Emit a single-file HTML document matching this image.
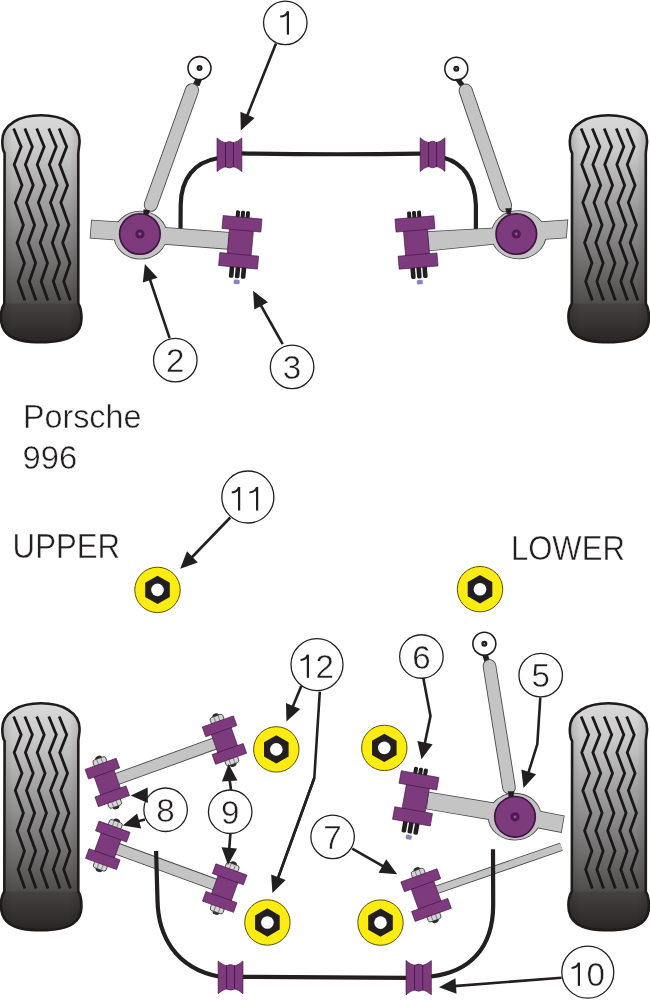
<!DOCTYPE html>
<html><head><meta charset="utf-8"><title>Porsche 996</title>
<style>html,body{margin:0;padding:0;background:#fff;}svg{display:block;}text{-webkit-font-smoothing:antialiased;}</style></head>
<body><svg width="650" height="1000" viewBox="0 0 650 1000" style="will-change:transform">
<rect width="650" height="1000" fill="#fff"/>
<defs>
<linearGradient id="tg" x1="0" y1="114" x2="0" y2="343" gradientUnits="userSpaceOnUse">
<stop offset="0" stop-color="#dadada"/>
<stop offset="0.157" stop-color="#c9c9c9"/>
<stop offset="0.5" stop-color="#8d8c8c"/>
<stop offset="0.821" stop-color="#514f4e"/>
<stop offset="0.832" stop-color="#45413f"/>
<stop offset="1" stop-color="#282423"/>
</linearGradient>
<linearGradient id="th" x1="0" y1="0" x2="82" y2="0" gradientUnits="userSpaceOnUse">
<stop offset="0" stop-color="#000" stop-opacity="0.16"/>
<stop offset="0.16" stop-color="#000" stop-opacity="0"/>
<stop offset="0.84" stop-color="#000" stop-opacity="0"/>
<stop offset="1" stop-color="#000" stop-opacity="0.16"/>
</linearGradient>
<g id="tire"><path d="M4.6,153 C2.6,150 2.3,146 2.3,141 C2.3,124 20,115.3 41,115.3 C62,115.3 79.6,124 79.6,141 C79.6,146 78.3,150 78.3,153.5 L78.3,303.5 C80.5,307 81.5,312 81.5,318 C81.5,333 72,342.3 41,342.3 C10,342.3 0.9,333 0.9,317 C0.9,312 2.2,307 4.3,303.5 Z" fill="url(#tg)"/><path d="M4.6,153 C2.6,150 2.3,146 2.3,141 C2.3,124 20,115.3 41,115.3 C62,115.3 79.6,124 79.6,141 C79.6,146 78.3,150 78.3,153.5 L78.3,303.5 C80.5,307 81.5,312 81.5,318 C81.5,333 72,342.3 41,342.3 C10,342.3 0.9,333 0.9,317 C0.9,312 2.2,307 4.3,303.5 Z" fill="url(#th)"/><path d="M4.6,153 C2.6,150 2.3,146 2.3,141 C2.3,124 20,115.3 41,115.3 C62,115.3 79.6,124 79.6,141 C79.6,146 78.3,150 78.3,153.5 L78.3,303.5 C80.5,307 81.5,312 81.5,318 C81.5,333 72,342.3 41,342.3 C10,342.3 0.9,333 0.9,317 C0.9,312 2.2,307 4.3,303.5 Z" fill="none" stroke="#1e1b1a" stroke-width="2.6"/><polyline points="13.65,128.50 21.15,146.80 14.20,164.60 22.00,185.30 15.30,202.60 23.40,225.00 17.10,242.70 24.45,263.10 18.15,281.50 24.85,300.50" fill="none" stroke="#1a1718" stroke-width="2.8" stroke-linejoin="miter"/><polyline points="24.85,128.50 32.35,146.80 25.40,164.60 33.20,185.30 26.50,202.60 34.60,225.00 28.30,242.70 35.65,263.10 29.35,281.50 36.05,300.50" fill="none" stroke="#1a1718" stroke-width="2.8" stroke-linejoin="miter"/><polyline points="36.70,128.50 44.20,146.80 37.25,164.60 45.05,185.30 38.35,202.60 46.45,225.00 40.15,242.70 47.50,263.10 41.20,281.50 47.90,300.50" fill="none" stroke="#1a1718" stroke-width="2.8" stroke-linejoin="miter"/><polyline points="48.80,128.50 56.30,146.80 49.35,164.60 57.15,185.30 50.45,202.60 58.55,225.00 52.25,242.70 59.60,263.10 53.30,281.50 60.00,300.50" fill="none" stroke="#1a1718" stroke-width="2.8" stroke-linejoin="miter"/><polyline points="59.20,128.50 66.70,146.80 59.75,164.60 67.55,185.30 60.85,202.60 68.95,225.00 62.65,242.70 70.00,263.10 63.70,281.50 70.40,300.50" fill="none" stroke="#1a1718" stroke-width="2.8" stroke-linejoin="miter"/></g>
</defs>
<use href="#tire" x="567.5" y="0"/>
<use href="#tire" x="0" y="588"/>
<use href="#tire" x="567.5" y="588"/>
<use href="#tire"/>
<path d="M217.5,158.3 C195,162 181,178 180.7,205 L180.5,230" fill="none" stroke="#231f20" stroke-width="4.2" stroke-linecap="butt"/>
<path d="M241,153.4 Q331,155 421,153.6" fill="none" stroke="#231f20" stroke-width="4.2" stroke-linecap="butt"/>
<path d="M444.5,158 C462,163 475,178 475.9,205 L475.9,230" fill="none" stroke="#231f20" stroke-width="4.2" stroke-linecap="butt"/>
<circle cx="199.5" cy="68.1" r="11.5" fill="#fff" stroke="#231f20" stroke-width="1.6"/>
<circle cx="199.5" cy="68.1" r="3" fill="#231f20"/>
<circle cx="199.5" cy="68.1" r="0.7" fill="#bbb"/>
<polygon points="195.5,78.5 202,79.5 199.5,86 192.5,85.5" fill="#231f20"/>
<line x1="192.0" y1="90.2" x2="150.8" y2="204.8" stroke="#4a4a4a" stroke-width="14.100000000000001" stroke-linecap="round"/>
<line x1="192.0" y1="90.2" x2="150.8" y2="204.8" stroke="#c4c4c4" stroke-width="12.3" stroke-linecap="round"/>
<polygon points="91.9,220.5 122,222.6 120,240 90.5,237.7" fill="#c4c4c4" stroke="#4a4a4a" stroke-width="1.6"/>
<polygon points="158,227.3 228.8,232.8 227.6,248.8 156,243.3" fill="#c4c4c4" stroke="#4a4a4a" stroke-width="1.6"/>
<ellipse cx="140.4" cy="235.1" rx="26.2" ry="23.6" fill="#c4c4c4" stroke="#4a4a4a" stroke-width="1.6"/>
<polygon points="91.9,220.5 122,222.6 120,240 90.5,237.7" fill="#c4c4c4"/>
<polygon points="158,227.3 228.8,232.8 227.6,248.8 156,243.3" fill="#c4c4c4"/>
<ellipse cx="140.4" cy="235.1" rx="26.2" ry="23.6" fill="#c4c4c4"/>
<circle cx="139.9" cy="234" r="20.3" fill="#7d3b7e" stroke="#3e1240" stroke-width="1.6"/>
<circle cx="139.9" cy="234" r="4.6" fill="#4e1a50"/>
<circle cx="139.9" cy="234" r="2.2" fill="#6a2a6c"/>
<circle cx="139.9" cy="234" r="0.8" fill="#b890b8"/>
<polygon points="143.5,209.3 150,210.3 148.3,215 143.3,214.5" fill="#231f20"/>
<g transform="translate(240.3,242.3) rotate(5.25)"><rect x="-7.00" y="-31.60" width="4" height="8" rx="1.6" fill="#231f20"/><rect x="-2.00" y="-31.60" width="4" height="8" rx="1.6" fill="#231f20"/><rect x="3.00" y="-31.60" width="4" height="8" rx="1.6" fill="#231f20"/><rect x="-8.30" y="23.10" width="4.6" height="13" rx="1.6" fill="#231f20"/><rect x="-2.30" y="23.10" width="4.6" height="13" rx="1.6" fill="#231f20"/><rect x="3.70" y="23.10" width="4.6" height="13" rx="1.6" fill="#231f20"/><rect x="-3" y="37.50" width="6" height="4.6" rx="1.5" fill="#8c84c0"/><rect x="-12.0" y="-18.6" width="24" height="37.2" fill="#7d3b7e" stroke="#3e1240" stroke-width="0.6"/><rect x="-19.5" y="-25.1" width="39" height="13" fill="#7d3b7e" stroke="#3e1240" stroke-width="0.6"/><rect x="-19.5" y="12.100000000000001" width="39" height="13" fill="#7d3b7e" stroke="#3e1240" stroke-width="0.6"/></g>
<circle cx="456.3" cy="68.7" r="11.5" fill="#fff" stroke="#231f20" stroke-width="1.6"/>
<circle cx="456.3" cy="68.7" r="3" fill="#231f20"/>
<circle cx="456.3" cy="68.7" r="0.7" fill="#bbb"/>
<polygon points="454.5,79 460.5,78.5 466,86 460,86.5" fill="#231f20"/>
<line x1="465.7" y1="90.6" x2="505.0" y2="205.3" stroke="#4a4a4a" stroke-width="14.100000000000001" stroke-linecap="round"/>
<line x1="465.7" y1="90.6" x2="505.0" y2="205.3" stroke="#c4c4c4" stroke-width="12.3" stroke-linecap="round"/>
<polygon points="567.4,220.2 536,222.4 538,239.5 566,237.6" fill="#c4c4c4" stroke="#4a4a4a" stroke-width="1.6"/>
<polygon points="500,228 427.8,231.9 429.3,250.4 502,243" fill="#c4c4c4" stroke="#4a4a4a" stroke-width="1.6"/>
<ellipse cx="518.6" cy="234.75" rx="27.1" ry="23.7" fill="#c4c4c4" stroke="#4a4a4a" stroke-width="1.6"/>
<polygon points="567.4,220.2 536,222.4 538,239.5 566,237.6" fill="#c4c4c4"/>
<polygon points="500,228 427.8,231.9 429.3,250.4 502,243" fill="#c4c4c4"/>
<ellipse cx="518.6" cy="234.75" rx="27.1" ry="23.7" fill="#c4c4c4"/>
<circle cx="516.3" cy="234" r="20.3" fill="#7d3b7e" stroke="#3e1240" stroke-width="1.6"/>
<circle cx="516.3" cy="234" r="4.6" fill="#4e1a50"/>
<circle cx="516.3" cy="234" r="2.2" fill="#6a2a6c"/>
<circle cx="516.3" cy="234" r="0.8" fill="#b890b8"/>
<polygon points="505.3,208.3 511.8,208.3 510.8,214 506.8,214.5" fill="#231f20"/>
<g transform="translate(416.5,242.5) rotate(-4.8)"><rect x="-7.00" y="-31.60" width="4" height="8" rx="1.6" fill="#231f20"/><rect x="-2.00" y="-31.60" width="4" height="8" rx="1.6" fill="#231f20"/><rect x="3.00" y="-31.60" width="4" height="8" rx="1.6" fill="#231f20"/><rect x="-8.30" y="23.10" width="4.6" height="13" rx="1.6" fill="#231f20"/><rect x="-2.30" y="23.10" width="4.6" height="13" rx="1.6" fill="#231f20"/><rect x="3.70" y="23.10" width="4.6" height="13" rx="1.6" fill="#231f20"/><rect x="-3" y="37.50" width="6" height="4.6" rx="1.5" fill="#8c84c0"/><rect x="-12.0" y="-18.6" width="24" height="37.2" fill="#7d3b7e" stroke="#3e1240" stroke-width="0.6"/><rect x="-19.5" y="-25.1" width="39" height="13" fill="#7d3b7e" stroke="#3e1240" stroke-width="0.6"/><rect x="-19.5" y="12.100000000000001" width="39" height="13" fill="#7d3b7e" stroke="#3e1240" stroke-width="0.6"/></g>
<path d="M217,137.9 Q221.98,142.22 225.466,142.70000000000002 Q229.45,140.3 233.434,142.70000000000002 Q236.92000000000002,142.22 241.9,137.9 L241.9,171.6 Q236.92000000000002,167.28 233.434,166.79999999999998 Q229.45,169.2 225.466,166.79999999999998 Q221.98,167.28 217,171.6 Z" fill="#7d3b7e" stroke="#3e1240" stroke-width="0.6"/>
<line x1="225.466" y1="142.20000000000002" x2="225.466" y2="167.29999999999998" stroke="#3e1240" stroke-width="0.8"/>
<line x1="233.434" y1="142.20000000000002" x2="233.434" y2="167.29999999999998" stroke="#3e1240" stroke-width="0.8"/>
<path d="M420.1,137.7 Q425.08000000000004,142.01999999999998 428.56600000000003,142.5 Q432.55,140.1 436.534,142.5 Q440.02,142.01999999999998 445,137.7 L445,171.4 Q440.02,167.08 436.534,166.6 Q432.55,169.0 428.56600000000003,166.6 Q425.08000000000004,167.08 420.1,171.4 Z" fill="#7d3b7e" stroke="#3e1240" stroke-width="0.6"/>
<line x1="428.56600000000003" y1="142.0" x2="428.56600000000003" y2="167.1" stroke="#3e1240" stroke-width="0.8"/>
<line x1="436.534" y1="142.0" x2="436.534" y2="167.1" stroke="#3e1240" stroke-width="0.8"/>
<line x1="107.3" y1="782.5" x2="224.45" y2="740.1" stroke="#4a4a4a" stroke-width="12.4" stroke-linecap="butt"/>
<line x1="107.3" y1="782.5" x2="224.45" y2="740.1" stroke="#c4c4c4" stroke-width="10.6" stroke-linecap="butt"/>
<line x1="107.8" y1="845.35" x2="224.7" y2="888.1" stroke="#4a4a4a" stroke-width="12.200000000000001" stroke-linecap="butt"/>
<line x1="107.8" y1="845.35" x2="224.7" y2="888.1" stroke="#c4c4c4" stroke-width="10.4" stroke-linecap="butt"/>
<g transform="translate(107.3,782.5) rotate(-19.6)"><ellipse cx="0" cy="-25.60" rx="3.5" ry="2.6" fill="#2a2a2a"/><rect x="-6.75" y="-25.60" width="13.50" height="7.00" rx="2.2" fill="#d6d6d6" stroke="#333" stroke-width="0.8"/><line x1="-2.25" y1="-25.10" x2="-2.25" y2="-19.10" stroke="#666" stroke-width="0.7"/><line x1="2.25" y1="-25.10" x2="2.25" y2="-19.10" stroke="#666" stroke-width="0.7"/><ellipse cx="0" cy="25.60" rx="3.5" ry="2.6" fill="#2a2a2a"/><rect x="-6.75" y="18.60" width="13.50" height="7.00" rx="2.2" fill="#d6d6d6" stroke="#333" stroke-width="0.8"/><line x1="-2.25" y1="19.10" x2="-2.25" y2="25.10" stroke="#666" stroke-width="0.7"/><line x1="2.25" y1="19.10" x2="2.25" y2="25.10" stroke="#666" stroke-width="0.7"/><rect x="-10.5" y="-14.65" width="21" height="29.3" fill="#7d3b7e" stroke="#3e1240" stroke-width="0.6"/><rect x="-16.5" y="-19.8" width="33" height="10.3" fill="#7d3b7e" stroke="#3e1240" stroke-width="0.6"/><rect x="-16.5" y="9.5" width="33" height="10.3" fill="#7d3b7e" stroke="#3e1240" stroke-width="0.6"/></g>
<g transform="translate(224.45,740.1) rotate(-19.6)"><ellipse cx="0" cy="-25.60" rx="3.5" ry="2.6" fill="#2a2a2a"/><rect x="-6.75" y="-25.60" width="13.50" height="7.00" rx="2.2" fill="#d6d6d6" stroke="#333" stroke-width="0.8"/><line x1="-2.25" y1="-25.10" x2="-2.25" y2="-19.10" stroke="#666" stroke-width="0.7"/><line x1="2.25" y1="-25.10" x2="2.25" y2="-19.10" stroke="#666" stroke-width="0.7"/><ellipse cx="0" cy="25.60" rx="3.5" ry="2.6" fill="#2a2a2a"/><rect x="-6.75" y="18.60" width="13.50" height="7.00" rx="2.2" fill="#d6d6d6" stroke="#333" stroke-width="0.8"/><line x1="-2.25" y1="19.10" x2="-2.25" y2="25.10" stroke="#666" stroke-width="0.7"/><line x1="2.25" y1="19.10" x2="2.25" y2="25.10" stroke="#666" stroke-width="0.7"/><rect x="-10.5" y="-14.65" width="21" height="29.3" fill="#7d3b7e" stroke="#3e1240" stroke-width="0.6"/><rect x="-16.5" y="-19.8" width="33" height="10.3" fill="#7d3b7e" stroke="#3e1240" stroke-width="0.6"/><rect x="-16.5" y="9.5" width="33" height="10.3" fill="#7d3b7e" stroke="#3e1240" stroke-width="0.6"/></g>
<g transform="translate(107.8,845.35) rotate(19.9)"><ellipse cx="0" cy="-25.60" rx="3.5" ry="2.6" fill="#2a2a2a"/><rect x="-6.75" y="-25.60" width="13.50" height="7.00" rx="2.2" fill="#d6d6d6" stroke="#333" stroke-width="0.8"/><line x1="-2.25" y1="-25.10" x2="-2.25" y2="-19.10" stroke="#666" stroke-width="0.7"/><line x1="2.25" y1="-25.10" x2="2.25" y2="-19.10" stroke="#666" stroke-width="0.7"/><ellipse cx="0" cy="25.60" rx="3.5" ry="2.6" fill="#2a2a2a"/><rect x="-6.75" y="18.60" width="13.50" height="7.00" rx="2.2" fill="#d6d6d6" stroke="#333" stroke-width="0.8"/><line x1="-2.25" y1="19.10" x2="-2.25" y2="25.10" stroke="#666" stroke-width="0.7"/><line x1="2.25" y1="19.10" x2="2.25" y2="25.10" stroke="#666" stroke-width="0.7"/><rect x="-10.5" y="-14.65" width="21" height="29.3" fill="#7d3b7e" stroke="#3e1240" stroke-width="0.6"/><rect x="-16.5" y="-19.8" width="33" height="10.3" fill="#7d3b7e" stroke="#3e1240" stroke-width="0.6"/><rect x="-16.5" y="9.5" width="33" height="10.3" fill="#7d3b7e" stroke="#3e1240" stroke-width="0.6"/></g>
<g transform="translate(224.7,888.1) rotate(19.85)"><ellipse cx="0" cy="-25.60" rx="3.5" ry="2.6" fill="#2a2a2a"/><rect x="-6.75" y="-25.60" width="13.50" height="7.00" rx="2.2" fill="#d6d6d6" stroke="#333" stroke-width="0.8"/><line x1="-2.25" y1="-25.10" x2="-2.25" y2="-19.10" stroke="#666" stroke-width="0.7"/><line x1="2.25" y1="-25.10" x2="2.25" y2="-19.10" stroke="#666" stroke-width="0.7"/><ellipse cx="0" cy="25.60" rx="3.5" ry="2.6" fill="#2a2a2a"/><rect x="-6.75" y="18.60" width="13.50" height="7.00" rx="2.2" fill="#d6d6d6" stroke="#333" stroke-width="0.8"/><line x1="-2.25" y1="19.10" x2="-2.25" y2="25.10" stroke="#666" stroke-width="0.7"/><line x1="2.25" y1="19.10" x2="2.25" y2="25.10" stroke="#666" stroke-width="0.7"/><rect x="-10.5" y="-14.65" width="21" height="29.3" fill="#7d3b7e" stroke="#3e1240" stroke-width="0.6"/><rect x="-16.5" y="-19.8" width="33" height="10.3" fill="#7d3b7e" stroke="#3e1240" stroke-width="0.6"/><rect x="-16.5" y="9.5" width="33" height="10.3" fill="#7d3b7e" stroke="#3e1240" stroke-width="0.6"/></g>
<line x1="436" y1="890" x2="561.3" y2="846.8" stroke="#4a4a4a" stroke-width="8.6" stroke-linecap="butt"/>
<line x1="436" y1="890" x2="561.3" y2="846.8" stroke="#c4c4c4" stroke-width="6.8" stroke-linecap="butt"/>
<g transform="translate(426.1,895.1) rotate(-19.9)"><ellipse cx="0" cy="-26.80" rx="3.5" ry="2.6" fill="#2a2a2a"/><rect x="-6.75" y="-26.80" width="13.50" height="7.00" rx="2.2" fill="#d6d6d6" stroke="#333" stroke-width="0.8"/><line x1="-2.25" y1="-26.30" x2="-2.25" y2="-20.30" stroke="#666" stroke-width="0.7"/><line x1="2.25" y1="-26.30" x2="2.25" y2="-20.30" stroke="#666" stroke-width="0.7"/><ellipse cx="0" cy="26.80" rx="3.5" ry="2.6" fill="#2a2a2a"/><rect x="-6.75" y="19.80" width="13.50" height="7.00" rx="2.2" fill="#d6d6d6" stroke="#333" stroke-width="0.8"/><line x1="-2.25" y1="20.30" x2="-2.25" y2="26.30" stroke="#666" stroke-width="0.7"/><line x1="2.25" y1="20.30" x2="2.25" y2="26.30" stroke="#666" stroke-width="0.7"/><rect x="-12.0" y="-15.75" width="24" height="31.5" fill="#7d3b7e" stroke="#3e1240" stroke-width="0.6"/><rect x="-19.25" y="-21.0" width="38.5" height="10.5" fill="#7d3b7e" stroke="#3e1240" stroke-width="0.6"/><rect x="-19.25" y="10.5" width="38.5" height="10.5" fill="#7d3b7e" stroke="#3e1240" stroke-width="0.6"/></g>
<path d="M156.1,851 L157.5,900 C158,935 175,968 219,976.5" fill="none" stroke="#231f20" stroke-width="4.2" stroke-linecap="butt"/>
<path d="M243,976.8 L407,977.8" fill="none" stroke="#231f20" stroke-width="4.2" stroke-linecap="butt"/>
<path d="M493,849.3 L493.2,905 C493,948 470,972 431,976.5" fill="none" stroke="#231f20" stroke-width="4.2" stroke-linecap="butt"/>
<path d="M218.1,961 Q223.07999999999998,965.32 226.566,965.8 Q230.55,963.4 234.534,965.8 Q238.02,965.32 243,961 L243,993.7 Q238.02,989.38 234.534,988.9000000000001 Q230.55,991.3000000000001 226.566,988.9000000000001 Q223.07999999999998,989.38 218.1,993.7 Z" fill="#7d3b7e" stroke="#3e1240" stroke-width="0.6"/>
<line x1="226.566" y1="965.3" x2="226.566" y2="989.4000000000001" stroke="#3e1240" stroke-width="0.8"/>
<line x1="234.534" y1="965.3" x2="234.534" y2="989.4000000000001" stroke="#3e1240" stroke-width="0.8"/>
<path d="M406,960.5 Q411.08,964.82 414.63599999999997,965.3 Q418.7,962.9 422.764,965.3 Q426.32,964.82 431.4,960.5 L431.4,994.8 Q426.32,990.4799999999999 422.764,990.0 Q418.7,992.4 414.63599999999997,990.0 Q411.08,990.4799999999999 406,994.8 Z" fill="#7d3b7e" stroke="#3e1240" stroke-width="0.6"/>
<line x1="414.63599999999997" y1="964.8" x2="414.63599999999997" y2="990.5" stroke="#3e1240" stroke-width="0.8"/>
<line x1="422.764" y1="964.8" x2="422.764" y2="990.5" stroke="#3e1240" stroke-width="0.8"/>
<circle cx="484.35" cy="643.7" r="11.5" fill="#fff" stroke="#231f20" stroke-width="1.6"/>
<circle cx="484.35" cy="643.7" r="3" fill="#231f20"/>
<circle cx="484.35" cy="643.7" r="0.7" fill="#bbb"/>
<polygon points="482,654.5 488,655 490.5,662 484.5,662" fill="#231f20"/>
<line x1="489.5" y1="666" x2="509.0" y2="787.5" stroke="#4a4a4a" stroke-width="13.600000000000001" stroke-linecap="round"/>
<line x1="489.5" y1="666" x2="509.0" y2="787.5" stroke="#c4c4c4" stroke-width="11.8" stroke-linecap="round"/>
<polygon points="563.8,816.2 532,810 530,826 561,832.1" fill="#c4c4c4" stroke="#4a4a4a" stroke-width="1.6"/>
<polygon points="428.7,792.5 495,803.5 494,820 427,808.7" fill="#c4c4c4" stroke="#4a4a4a" stroke-width="1.6"/>
<ellipse cx="514.75" cy="816.65" rx="26.1" ry="23" fill="#c4c4c4" stroke="#4a4a4a" stroke-width="1.6"/>
<polygon points="563.8,816.2 532,810 530,826 561,832.1" fill="#c4c4c4"/>
<polygon points="428.7,792.5 495,803.5 494,820 427,808.7" fill="#c4c4c4"/>
<ellipse cx="514.75" cy="816.65" rx="26.1" ry="23" fill="#c4c4c4"/>
<circle cx="515" cy="816.85" r="20.3" fill="#7d3b7e" stroke="#3e1240" stroke-width="1.6"/>
<circle cx="515" cy="816.85" r="4.6" fill="#4e1a50"/>
<circle cx="515" cy="816.85" r="2.2" fill="#6a2a6c"/>
<circle cx="515" cy="816.85" r="0.8" fill="#b890b8"/>
<polygon points="507.8,791.3 514.2,791.3 513.6,797 508.6,797" fill="#231f20"/>
<g transform="translate(415.75,798.4) rotate(10.2)"><rect x="-7.00" y="-31.15" width="4" height="8" rx="1.6" fill="#231f20"/><rect x="-2.00" y="-31.15" width="4" height="8" rx="1.6" fill="#231f20"/><rect x="3.00" y="-31.15" width="4" height="8" rx="1.6" fill="#231f20"/><rect x="-8.30" y="22.65" width="4.6" height="13" rx="1.6" fill="#231f20"/><rect x="-2.30" y="22.65" width="4.6" height="13" rx="1.6" fill="#231f20"/><rect x="3.70" y="22.65" width="4.6" height="13" rx="1.6" fill="#231f20"/><rect x="-3" y="37.05" width="6" height="4.6" rx="1.5" fill="#8c84c0"/><rect x="-11.7" y="-18.3" width="23.4" height="36.6" fill="#7d3b7e" stroke="#3e1240" stroke-width="0.6"/><rect x="-19.15" y="-24.65" width="38.3" height="12.7" fill="#7d3b7e" stroke="#3e1240" stroke-width="0.6"/><rect x="-19.15" y="11.950000000000001" width="38.3" height="12.7" fill="#7d3b7e" stroke="#3e1240" stroke-width="0.6"/></g>
<circle cx="157.5" cy="589.9" r="22.7" fill="#fcec12" stroke="#5a5200" stroke-width="1"/>
<polygon points="157.50,575.70 169.80,582.80 169.80,597.00 157.50,604.10 145.20,597.00 145.20,582.80" fill="#231f20"/>
<circle cx="157.5" cy="589.9" r="6.3" fill="#fff"/>
<circle cx="480" cy="589.2" r="22.7" fill="#fcec12" stroke="#5a5200" stroke-width="1"/>
<polygon points="480.00,575.00 492.30,582.10 492.30,596.30 480.00,603.40 467.70,596.30 467.70,582.10" fill="#231f20"/>
<circle cx="480" cy="589.2" r="6.3" fill="#fff"/>
<circle cx="276.3" cy="749.4" r="22.7" fill="#fcec12" stroke="#5a5200" stroke-width="1"/>
<polygon points="276.30,735.20 288.60,742.30 288.60,756.50 276.30,763.60 264.00,756.50 264.00,742.30" fill="#231f20"/>
<circle cx="276.3" cy="749.4" r="6.3" fill="#fff"/>
<circle cx="384.3" cy="747.9" r="22.7" fill="#fcec12" stroke="#5a5200" stroke-width="1"/>
<polygon points="384.30,733.70 396.60,740.80 396.60,755.00 384.30,762.10 372.00,755.00 372.00,740.80" fill="#231f20"/>
<circle cx="384.3" cy="747.9" r="6.3" fill="#fff"/>
<circle cx="267.4" cy="922.5" r="22.7" fill="#fcec12" stroke="#5a5200" stroke-width="1"/>
<polygon points="267.40,908.30 279.70,915.40 279.70,929.60 267.40,936.70 255.10,929.60 255.10,915.40" fill="#231f20"/>
<circle cx="267.4" cy="922.5" r="6.3" fill="#fff"/>
<circle cx="380.5" cy="922.6" r="22.7" fill="#fcec12" stroke="#5a5200" stroke-width="1"/>
<polygon points="380.50,908.40 392.80,915.50 392.80,929.70 380.50,936.80 368.20,929.70 368.20,915.50" fill="#231f20"/>
<circle cx="380.5" cy="922.6" r="6.3" fill="#fff"/>
<circle cx="285.3" cy="22.8" r="21.75" fill="#fff" stroke="#231f20" stroke-width="1.3"/>
<path d="M287.9,11.2 L287.9,34.6" stroke="#231f20" stroke-width="2.2" fill="none"/>
<path d="M287.59999999999997,11.799999999999999 C286.29999999999995,15.399999999999999 283.9,16.5 280.2,16.6" stroke="#231f20" stroke-width="2" fill="none"/>
<polyline points="276.00,43.50 246.74,116.73" fill="none" stroke="#231f20" stroke-width="2.6" stroke-linejoin="round"/>
<polygon points="240.80,130.50 240.42,111.82 254.65,117.96" fill="#231f20"/>
<circle cx="175.3" cy="360.2" r="21.75" fill="#fff" stroke="#231f20" stroke-width="1.3"/>
<text x="175.3" y="372.20" text-anchor="middle" font-size="33.2" font-family="&apos;Liberation Sans&apos;, sans-serif" fill="#231f20" stroke="#fff" stroke-width="0.45">2</text>
<polyline points="169.60,338.20 149.54,278.26" fill="none" stroke="#231f20" stroke-width="2.6" stroke-linejoin="round"/>
<polygon points="144.90,264.00 157.53,277.77 142.79,282.56" fill="#231f20"/>
<circle cx="292.1" cy="366.9" r="21.75" fill="#fff" stroke="#231f20" stroke-width="1.3"/>
<text x="292.1" y="378.90" text-anchor="middle" font-size="33.2" font-family="&apos;Liberation Sans&apos;, sans-serif" fill="#231f20" stroke="#fff" stroke-width="0.45">3</text>
<polyline points="282.70,344.20 260.18,304.03" fill="none" stroke="#231f20" stroke-width="2.6" stroke-linejoin="round"/>
<polygon points="253.10,290.80 267.95,302.13 254.29,309.45" fill="#231f20"/>
<circle cx="247.85" cy="497" r="26.0" fill="#fff" stroke="#231f20" stroke-width="1.3"/>
<path d="M239.1,487.0 L239.1,510.5" stroke="#231f20" stroke-width="2.2" fill="none"/>
<path d="M238.79999999999998,487.6 C237.5,491.2 235.1,492.3 231.8,492.4" stroke="#231f20" stroke-width="2" fill="none"/>
<path d="M257.1,487.0 L257.1,510.5" stroke="#231f20" stroke-width="2.2" fill="none"/>
<path d="M256.8,487.6 C255.50000000000003,491.2 253.10000000000002,492.3 249.4,492.4" stroke="#231f20" stroke-width="2" fill="none"/>
<polyline points="230.30,517.50 190.97,558.26" fill="none" stroke="#231f20" stroke-width="2.6" stroke-linejoin="round"/>
<polygon points="180.20,568.70 187.02,551.31 197.80,562.44" fill="#231f20"/>
<circle cx="317" cy="664.6" r="26.0" fill="#fff" stroke="#231f20" stroke-width="1.3"/>
<path d="M307.9,654.6 L307.9,677.8" stroke="#231f20" stroke-width="2.2" fill="none"/>
<path d="M307.59999999999997,655.2 C306.29999999999995,658.8000000000001 303.9,659.9 300.5,660.0" stroke="#231f20" stroke-width="2" fill="none"/>
<text x="324.8" y="677.8" text-anchor="middle" font-size="33.2" font-family="&apos;Liberation Sans&apos;, sans-serif" fill="#231f20" stroke="#fff" stroke-width="0.45">2</text>
<polyline points="301.30,686.10 292.32,707.78" fill="none" stroke="#231f20" stroke-width="2.6" stroke-linejoin="round"/>
<polygon points="286.50,721.60 285.96,702.92 300.24,708.94" fill="#231f20"/>
<polyline points="319.8,691.6 314.3,778 278.3,877.3" fill="none" stroke="#231f20" stroke-width="2.6"/>
<polyline points="314.30,778.00 277.70,879.07" fill="none" stroke="#231f20" stroke-width="2.6" stroke-linejoin="round"/>
<polygon points="272.40,893.10 271.16,874.46 285.66,879.94" fill="#231f20"/>
<circle cx="421.4" cy="656.5" r="21.75" fill="#fff" stroke="#231f20" stroke-width="1.3"/>
<text x="421.4" y="668.50" text-anchor="middle" font-size="33.2" font-family="&apos;Liberation Sans&apos;, sans-serif" fill="#231f20" stroke="#fff" stroke-width="0.45">6</text>
<polyline points="423.30,678.10 430.50,716.00 424.59,744.52" fill="none" stroke="#231f20" stroke-width="2.6" stroke-linejoin="round"/>
<polygon points="421.50,759.20 417.42,740.97 432.59,744.16" fill="#231f20"/>
<circle cx="540.7" cy="675.2" r="21.75" fill="#fff" stroke="#231f20" stroke-width="1.3"/>
<text x="540.7" y="687.20" text-anchor="middle" font-size="33.2" font-family="&apos;Liberation Sans&apos;, sans-serif" fill="#231f20" stroke="#fff" stroke-width="0.45">5</text>
<polyline points="540.30,697.50 537.30,744.20 528.11,773.73" fill="none" stroke="#231f20" stroke-width="2.6" stroke-linejoin="round"/>
<polygon points="523.50,788.00 521.35,769.44 536.10,774.20" fill="#231f20"/>
<circle cx="332.6" cy="836.85" r="21.75" fill="#fff" stroke="#231f20" stroke-width="1.3"/>
<text x="332.6" y="848.85" text-anchor="middle" font-size="33.2" font-family="&apos;Liberation Sans&apos;, sans-serif" fill="#231f20" stroke="#fff" stroke-width="0.45">7</text>
<polyline points="352.20,848.70 384.16,866.89" fill="none" stroke="#231f20" stroke-width="2.6" stroke-linejoin="round"/>
<polygon points="397.20,874.30 378.59,872.63 386.25,859.16" fill="#231f20"/>
<circle cx="165.6" cy="809.75" r="21.75" fill="#fff" stroke="#231f20" stroke-width="1.3"/>
<text x="165.6" y="821.75" text-anchor="middle" font-size="33.2" font-family="&apos;Liberation Sans&apos;, sans-serif" fill="#231f20" stroke="#fff" stroke-width="0.45">8</text>
<polyline points="147.00,795.50 145.80,795.21" fill="none" stroke="#231f20" stroke-width="2.6" stroke-linejoin="round"/>
<polygon points="130.80,795.40 147.70,787.44 147.90,802.94" fill="#231f20"/>
<polyline points="145.00,819.60 137.20,821.58" fill="none" stroke="#231f20" stroke-width="2.6" stroke-linejoin="round"/>
<polygon points="122.70,825.40 137.16,813.57 141.11,828.56" fill="#231f20"/>
<circle cx="230.2" cy="811.75" r="21.75" fill="#fff" stroke="#231f20" stroke-width="1.3"/>
<text x="230.2" y="823.75" text-anchor="middle" font-size="33.2" font-family="&apos;Liberation Sans&apos;, sans-serif" fill="#231f20" stroke="#fff" stroke-width="0.45">9</text>
<polyline points="231.00,789.80 229.56,778.97" fill="none" stroke="#231f20" stroke-width="2.6" stroke-linejoin="round"/>
<polygon points="228.60,764.00 237.42,780.47 221.95,781.46" fill="#231f20"/>
<polyline points="230.40,833.70 229.15,849.94" fill="none" stroke="#231f20" stroke-width="2.6" stroke-linejoin="round"/>
<polygon points="228.00,864.90 221.58,847.36 237.03,848.54" fill="#231f20"/>
<circle cx="587.8" cy="972.2" r="26.0" fill="#fff" stroke="#231f20" stroke-width="1.3"/>
<path d="M578.9,962.6 L578.9,985.8" stroke="#231f20" stroke-width="2.2" fill="none"/>
<path d="M578.6,963.2 C577.3,966.8000000000001 574.9,967.9 571.6,968.0" stroke="#231f20" stroke-width="2" fill="none"/>
<text x="595.8" y="986.0" text-anchor="middle" font-size="33.2" font-family="&apos;Liberation Sans&apos;, sans-serif" fill="#231f20" stroke="#fff" stroke-width="0.45">0</text>
<polyline points="561.50,977.70 453.96,986.16" fill="none" stroke="#231f20" stroke-width="2.6" stroke-linejoin="round"/>
<polygon points="439.00,987.20 455.42,978.29 456.50,993.76" fill="#231f20"/>
<text x="22.9" y="428.3" font-size="33.5" font-family="&apos;Liberation Sans&apos;, sans-serif" fill="#231f20" stroke="#fff" stroke-width="0.45" textLength="118.6" lengthAdjust="spacingAndGlyphs">Porsche</text>
<text x="22.6" y="468.7" font-size="32.8" font-family="&apos;Liberation Sans&apos;, sans-serif" fill="#231f20" stroke="#fff" stroke-width="0.45">996</text>
<text x="12.6" y="557.5" font-size="34.8" font-family="&apos;Liberation Sans&apos;, sans-serif" fill="#231f20" stroke="#fff" stroke-width="0.45" textLength="107.5" lengthAdjust="spacingAndGlyphs">UPPER</text>
<text x="510.9" y="559.5" font-size="34.8" font-family="&apos;Liberation Sans&apos;, sans-serif" fill="#231f20" stroke="#fff" stroke-width="0.45" textLength="114" lengthAdjust="spacingAndGlyphs">LOWER</text>
</svg></body></html>
